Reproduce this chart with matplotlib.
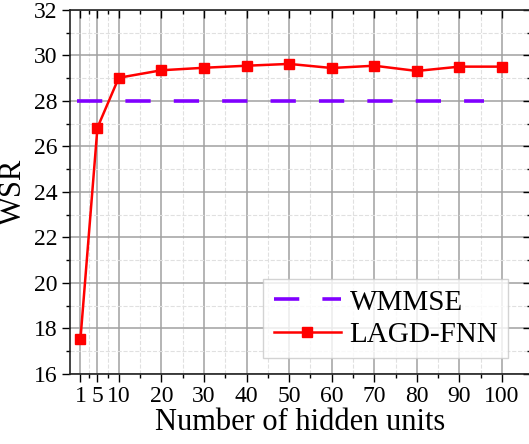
import matplotlib
matplotlib.use("Agg")
import matplotlib.pyplot as plt
from matplotlib.ticker import FixedLocator, MultipleLocator

plt.rcParams['font.family'] = ['Liberation Serif', 'DejaVu Serif']
plt.rcParams['mathtext.fontset'] = 'stix'

# data
hidden_units = [1, 5, 10, 20, 30, 40, 50, 60, 70, 80, 90, 100]
lagd_fnn = [17.52, 26.83, 29.02, 29.35, 29.46, 29.55, 29.63, 29.45, 29.55, 29.32, 29.51, 29.51]
wmmse_x = [0.2, 95.8]
wmmse_y = [28.0, 28.0]
x_ticks = [1, 5, 10, 20, 30, 40, 50, 60, 70, 80, 90, 100]
x_minor = [3, 7.5, 15, 25, 35, 45, 55, 65, 75, 85, 95]

fig = plt.figure(figsize=(5.29, 4.44), dpi=100)
ax = fig.add_axes([0.1323, 0.1577, 0.8707, 0.8198])

ax.plot(wmmse_x, wmmse_y, color='#8000ff', linewidth=2.6,
        linestyle=(0, (7.0, 6.4)), label='WMMSE', zorder=3)
ax.plot(hidden_units, lagd_fnn, color='#ff0000', linewidth=1.8,
        marker='s', markersize=7, label='LAGD-FNN', zorder=4)

ax.set_xlim(-1.45, 106.7)
ax.set_ylim(16, 32)
ax.xaxis.set_major_locator(FixedLocator(x_ticks))
ax.xaxis.set_minor_locator(FixedLocator(x_minor))
ax.yaxis.set_major_locator(MultipleLocator(2))
ax.yaxis.set_minor_locator(MultipleLocator(1))

ax.grid(which='major', color='#a0a0a0', linewidth=1.1, linestyle='-', zorder=0)
ax.grid(which='minor', color='#e0e0e0', linewidth=0.8, linestyle='--', zorder=0)
ax.set_axisbelow(True)

ax.tick_params(which='both', direction='out', labelsize=17, width=1.0)
ax.tick_params(which='major', length=5.5)
ax.tick_params(which='minor', length=3)
ax.tick_params(which='both', top=True, right=True)
ax.tick_params(axis='x', pad=3)
for t in ax.xaxis.get_major_ticks() + ax.xaxis.get_minor_ticks():
    t.tick2line.set_marker(3)  # top ticks pointing in
for t in ax.yaxis.get_major_ticks() + ax.yaxis.get_minor_ticks():
    t.tick2line.set_marker(0)  # right ticks pointing in
for s in ax.spines.values():
    s.set_linewidth(1.2)
    s.set_color('#222222')

ax.set_xlabel('Number of hidden units', fontsize=22, labelpad=1)
ax.set_ylabel('WSR', fontsize=22, labelpad=4)

leg = ax.legend(loc='lower right', fontsize=21, frameon=True, fancybox=False,
                handlelength=2.3, handletextpad=0.3, borderpad=0.35,
                labelspacing=0.2, bbox_to_anchor=(0.952, 0.044), borderaxespad=0)
leg.get_frame().set_edgecolor('#c8c8c8')
leg.get_frame().set_linewidth(1.0)

fig.savefig('out.png', dpi=100)
